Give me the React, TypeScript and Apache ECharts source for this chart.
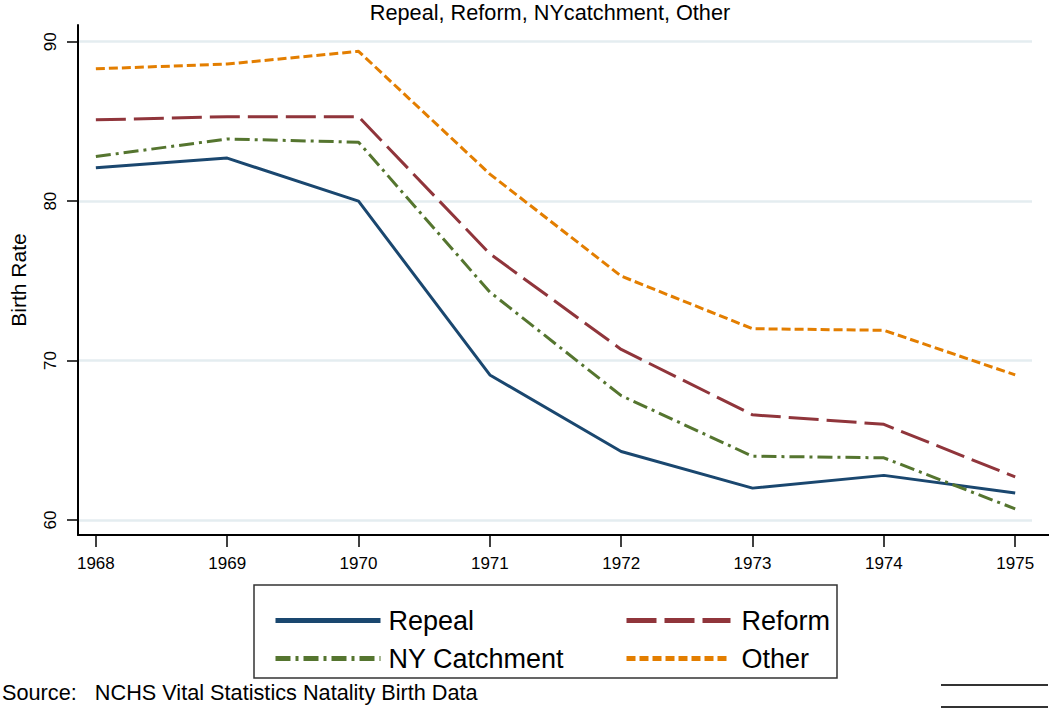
import React, { useEffect, useRef } from "react";
import * as echarts from "echarts";

const years = [1968, 1969, 1970, 1971, 1972, 1973, 1974, 1975];
const repeal = [82.1, 82.7, 80.0, 69.1, 64.3, 62.0, 62.8, 61.7];
const reform = [85.1, 85.3, 85.3, 76.7, 70.7, 66.6, 66.0, 62.7];
const nyCatchment = [82.8, 83.9, 83.7, 74.3, 67.8, 64.0, 63.9, 60.7];
const other = [88.3, 88.6, 89.4, 81.7, 75.3, 72.0, 71.9, 69.1];
const yTicks = [60, 70, 80, 90];

const FONT = "'Liberation Sans', Arial, Helvetica, sans-serif";
const NARROW = "'Liberation Sans Narrow', 'Arial Narrow', 'Liberation Sans', Arial, sans-serif";

const pairs = (vals: number[]) => years.map((y, i) => [y, vals[i]]);

export default function App() {
  const ref = useRef<HTMLDivElement>(null);
  useEffect(() => {
    if (!ref.current) return;
    const chart = echarts.init(ref.current, undefined, { renderer: "svg" });
    const mk = (name: string, vals: number[], color: string, type: any) => ({
      name,
      type: "line",
      data: pairs(vals),
      symbol: "none",
      showSymbol: false,
      lineStyle: { color, width: 3, type },
      itemStyle: { color },
      z: 3,
    });
    const legendCommon = {
      orient: "vertical",
      top: 602,
      itemHeight: 26,
      itemGap: 11,
      selectedMode: false,
      itemStyle: { opacity: 0, borderWidth: 0 },
      lineStyle: { width: 5 },
    };
    chart.setOption({
      animation: false,
      backgroundColor: "#ffffff",
      grid: { left: 69, right: 18, top: 25, bottom: 175, containLabel: false },
      xAxis: {
        type: "value",
        min: 1967.864,
        max: 1975.128,
        axisLine: { show: true, onZero: false, lineStyle: { color: "#000", width: 2 } },
        axisTick: { show: true, length: 12, customValues: years, lineStyle: { color: "#000", width: 1.5 } },
        axisLabel: {
          show: true,
          customValues: years,
          formatter: (v: number) => String(Math.round(v)),
          fontFamily: NARROW,
          fontSize: 17,
          color: "#000",
          margin: 20,
        },
        splitLine: { show: false },
      },
      yAxis: {
        type: "value",
        min: 59.06,
        max: 91.05,
        name: "Birth Rate",
        nameLocation: "middle",
        nameGap: 49,
        nameRotate: 90,
        nameTextStyle: { fontFamily: FONT, fontSize: 21, color: "#000" },
        axisLine: { show: true, onZero: false, lineStyle: { color: "#000", width: 2 } },
        axisTick: { show: true, length: 11, customValues: yTicks, lineStyle: { color: "#000", width: 1.5 } },
        axisLabel: {
          show: true,
          customValues: yTicks,
          rotate: 90,
          fontFamily: FONT,
          fontSize: 17,
          color: "#000",
          margin: 19,
        },
        splitLine: { show: true, lineStyle: { color: "#e4edf0", width: 2.5 } },
      },
      legend: [
        {
          ...legendCommon,
          left: 268,
          itemWidth: 105,
          data: ["Repeal", "NY Catchment"],
          textStyle: { fontFamily: FONT, fontSize: 27, color: "#000", padding: [0, 0, 0, 3] },
        },
        {
          ...legendCommon,
          left: 619,
          itemWidth: 104,
          data: ["Reform", "Other"],
          textStyle: { fontFamily: FONT, fontSize: 27, color: "#000", padding: [0, 0, 0, 6] },
        },
      ],
      series: [
        mk("Repeal", repeal, "#1a476f", "solid"),
        mk("Reform", reform, "#90353b", [30, 8]),
        mk("NY Catchment", nyCatchment, "#55752f", [15, 5, 3, 5]),
        mk("Other", other, "#e37e00", [9, 4]),
      ],
      graphic: [
        {
          type: "text",
          x: 550,
          y: 1,
          style: {
            text: "Repeal, Reform, NYcatchment, Other",
            align: "center",
            verticalAlign: "top",
            font: `21.7px ${FONT}`,
            fill: "#000",
          },
        },
        {
          type: "line",
          shape: { x1: 1031, y1: 535, x2: 1049, y2: 535 },
          style: { stroke: "#000", lineWidth: 2 },
        },
        {
          type: "rect",
          shape: { x: 254, y: 585, width: 583, height: 93 },
          style: { fill: "none", stroke: "#333", lineWidth: 1.5 },
        },
        {
          type: "text",
          x: 2,
          y: 692,
          style: {
            text: "Source:   NCHS Vital Statistics Natality Birth Data",
            align: "left",
            verticalAlign: "middle",
            font: `21.7px ${FONT}`,
            fill: "#000",
          },
        },
        {
          type: "line",
          shape: { x1: 941, y1: 685, x2: 1048, y2: 685 },
          style: { stroke: "#333", lineWidth: 2 },
        },
        {
          type: "line",
          shape: { x1: 941, y1: 707, x2: 1048, y2: 707 },
          style: { stroke: "#333", lineWidth: 2 },
        },
      ],
    });
    return () => chart.dispose();
  }, []);
  return <div ref={ref} style={{ width: 1050, height: 710, position: "absolute", left: 0, top: 0 }} />;
}
